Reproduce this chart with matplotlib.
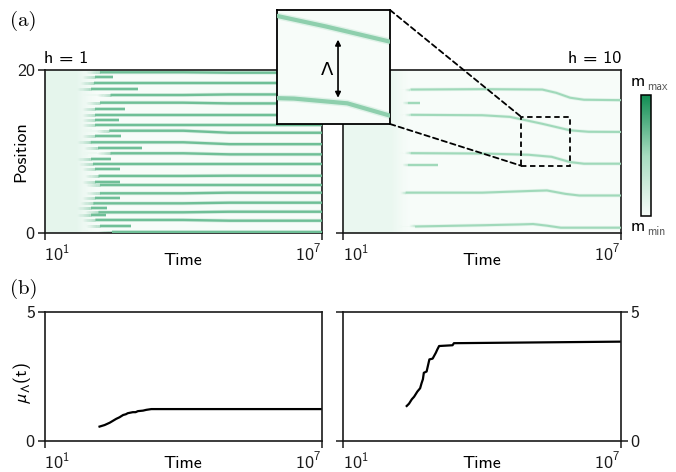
import numpy as np
import matplotlib
matplotlib.use('Agg')
import matplotlib.pyplot as plt
from matplotlib.colors import LinearSegmentedColormap, Normalize
from matplotlib.collections import LineCollection
from matplotlib.patches import Rectangle, ConnectionPatch
import matplotlib.colorbar as mcolorbar

plt.rcParams.update({
    'font.family': ['cmss10', 'DejaVu Sans'],
    'mathtext.fontset': 'custom',
    'mathtext.rm': 'cmss10',
    'mathtext.it': 'cmss10',
    'mathtext.bf': 'cmss10',
    'mathtext.sf': 'cmss10',
    'mathtext.fallback': 'stixsans',
    'axes.unicode_minus': False,
    'axes.formatter.use_mathtext': True,
    'font.size': 13,
})

# ---------------- data (log10 of time, positions) ----------------
# h = 1 : domain walls (keypoints in log10 time / position)
h1_walls_logt = [
    [2.20, 4.0, 5.0, 7.0], [2.06, 4.0, 5.0, 7.0], [2.43, 4.0, 5.0, 7.0],
    [2.20, 4.0, 5.0, 7.0], [2.10, 4.0, 5.0, 7.0], [2.10, 4.0, 5.0, 7.0],
    [2.40, 4.0, 5.0, 7.0], [2.00, 4.0, 5.0, 7.0], [2.43, 4.0, 5.0, 7.0],
    [2.05, 4.0, 5.0, 7.0], [2.17, 4.0, 5.0, 7.0], [2.20, 4.0, 5.0, 7.0],
    [2.20, 4.0, 5.0, 7.0], [2.06, 4.0, 5.0, 7.0], [2.17, 4.0, 5.0, 7.0],
    [2.10, 4.0, 5.0, 7.0], [2.45, 4.0, 5.0, 7.0],
    # short-lived walls
    [2.10, 2.49], [2.00, 3.03], [2.10, 2.75], [2.10, 2.60], [2.10, 2.66],
    [2.15, 3.10], [2.00, 2.43], [2.10, 2.64], [2.10, 2.63], [2.10, 2.64],
    [2.00, 2.35], [2.00, 2.32], [2.20, 2.86],
]
h1_walls_pos = [
    [19.72, 19.72, 19.67, 19.67], [18.37, 18.37, 18.37, 18.37], [16.93, 16.93, 17.0, 17.0],
    [15.99, 15.99, 15.9, 15.9], [14.48, 14.48, 14.48, 14.48], [13.25, 13.25, 13.25, 13.25],
    [12.55, 12.55, 12.3, 12.3], [11.13, 11.13, 10.9, 10.9], [9.78, 9.78, 9.65, 9.65],
    [8.43, 8.43, 8.43, 8.43], [7.0, 7.0, 7.03, 7.03], [5.89, 5.89, 5.89, 5.89],
    [4.87, 4.87, 4.95, 4.95], [3.64, 3.64, 3.72, 3.72], [2.54, 2.54, 2.61, 2.61],
    [1.6, 1.6, 1.51, 1.51], [0.16, 0.16, 0.16, 0.16],
    [19.1, 19.1], [17.63, 17.63], [15.2, 15.2], [13.87, 13.87], [11.94, 11.94],
    [10.47, 10.47], [9.04, 9.04], [7.85, 7.85], [6.22, 6.22], [4.26, 4.26],
    [3.1, 3.1], [2.2, 2.2], [0.9, 0.9],
]

# h = 10 : domain walls
h10_walls_logt = [
    [2.45, 4.0, 5.3, 5.6, 5.9, 6.2, 7.0],
    [2.45, 4.0, 4.6, 5.3, 5.9, 6.3, 7.0],
    [2.45, 4.0, 5.0, 5.5, 5.9, 6.2, 7.0],
    [2.35, 4.0, 5.0, 5.4, 5.8, 6.1, 7.0],
    [2.55, 4.0, 4.8, 5.1, 5.4, 5.7, 7.0],
    [2.40, 2.65],
    [2.40, 3.05],
]
h10_walls_pos = [
    [17.6, 17.65, 17.6, 17.2, 16.6, 16.35, 16.3],
    [14.5, 14.45, 14.25, 13.4, 12.6, 12.42, 12.4],
    [9.8, 9.75, 9.6, 9.35, 8.7, 8.5, 8.5],
    [4.95, 4.95, 5.15, 5.22, 4.8, 4.6, 4.6],
    [0.8, 0.95, 1.05, 1.1, 0.9, 0.65, 0.65],
    [16.0, 16.0],
    [8.4, 8.4],
]

# early-time disordered background (level, fade start, fade end in log10 t)
h1_haze = [0.11, 1.70, 2.20]
h10_haze = [0.08, 2.05, 2.50]

# zoom window (log10 t range, position range)
zoom_logt = [4.84, 5.90]
zoom_pos = [8.26, 14.27]

# (b) mean domain size
mu_h1_logt = [2.19, 2.30, 2.41, 2.55, 2.62, 2.70, 2.76, 2.80, 2.91, 2.97, 3.02, 3.13, 3.20, 3.31, 7.0]
mu_h1 = [0.56, 0.62, 0.71, 0.86, 0.92, 1.01, 1.04, 1.08, 1.12, 1.12, 1.16, 1.18, 1.21, 1.24, 1.24]
mu_h10_logt = [2.37, 2.42, 2.48, 2.53, 2.60, 2.66, 2.69, 2.72, 2.74, 2.80, 2.86,
               2.93, 3.00, 3.03, 3.07, 3.36, 3.39, 7.0]
mu_h10 = [1.36, 1.45, 1.62, 1.72, 1.92, 2.05, 2.24, 2.40, 2.65, 2.70, 3.17,
          3.20, 3.43, 3.55, 3.69, 3.72, 3.80, 3.86]

xtick_labels = [r'$10^{1}$', r'$10^{7}$']

# ---------------- styling ----------------
cmap = LinearSegmentedColormap.from_list('mg', ['#f7fcf9', '#a6dcbf', '#108c52'])
W, H = 676, 472
FS = 13
fig = plt.figure(figsize=(W / 100, H / 100), dpi=100)


def fax(x0, y0, x1, y1):
    return fig.add_axes([x0 / W, 1 - y1 / H, (x1 - x0) / W, (y1 - y0) / H])


def style_axes(ax):
    for s in ax.spines.values():
        s.set_linewidth(1.2)
        s.set_color('#1a1a1a')
    ax.set_xscale('log')
    ax.set_xlim(10 ** 1, 10 ** 7)
    ax.xaxis.set_minor_locator(matplotlib.ticker.NullLocator())
    ax.set_xticks([10 ** 1, 10 ** 7], labels=xtick_labels)
    for lbl, ha in zip(ax.get_xticklabels(), ['left', 'right']):
        lbl.set_horizontalalignment(ha)
    ax.tick_params(direction='out', length=5, width=1.1, labelsize=FS, pad=2, colors='#1a1a1a')


def draw_walls(ax, walls_t, walls_y, haze, color, lw_core, lw_glow, lead, with_haze=True):
    ax.set_facecolor(cmap(0.0))
    if with_haze:
        lt_edges = np.linspace(1, 7, 601)
        y_edges = np.linspace(0, 20, 401)
        lt_c = 0.5 * (lt_edges[1:] + lt_edges[:-1])
        y_c = 0.5 * (y_edges[1:] + y_edges[:-1])
        LT, Y = np.meshgrid(lt_c, y_c)
        level, f0, f1 = haze
        inten = level * np.clip((f1 - LT) / (f1 - f0), 0, 1) ** 1.5
        for t, y in zip(walls_t, walls_y):
            t0, y0 = t[0], y[0]
            frac = np.clip((t0 - LT) / max(t0 - f0 + 0.2, 0.05), 0, 1)
            halfw = 0.3 * frac
            mask = (np.abs(Y - y0) < halfw) & (LT < t0)
            inten = np.where(mask, np.maximum(inten, level * 0.8 * (1 - 0.5 * (1 - frac))), inten)
        ax.pcolormesh(10 ** lt_edges, y_edges, inten, cmap=cmap, vmin=0, vmax=1,
                      shading='flat', rasterized=True, zorder=0)
    for t, y in zip(walls_t, walls_y):
        t = np.asarray(t)
        y = np.asarray(y)
        # lead-in (fade-in of the wall)
        n = 12
        lts = np.linspace(t[0] - lead, t[0], n + 1)
        segs = [[(10 ** lts[i], y[0]), (10 ** lts[i + 1], y[0])] for i in range(n)]
        cols = [(*color[:3], a) for a in np.linspace(0.02, 0.55, n)]
        ax.add_collection(LineCollection(segs, colors=cols, linewidths=lw_core * 1.2, zorder=2))
        ax.plot(10 ** t, y, color=color, lw=lw_glow, alpha=0.22, solid_capstyle='butt',
                solid_joinstyle='round', zorder=2)
        ax.plot(10 ** t, y, color=color, lw=lw_core, solid_capstyle='butt',
                solid_joinstyle='round', zorder=3)


# ---------------- (a) left: h = 1 ----------------
axL = fax(44.5, 70, 322, 233)
draw_walls(axL, h1_walls_logt, h1_walls_pos, h1_haze, cmap(0.68), 1.7, 2.8, 0.3)
style_axes(axL)
axL.set_ylim(0, 20)
axL.set_yticks([0, 20], labels=['0', '20'])
axL.set_ylabel('Position', fontsize=FS)
axL.yaxis.set_label_coords(-0.085, 0.5)
axL.yaxis.label.set_va('center')
axL.set_title('h = 1', loc='left', fontsize=FS, pad=5)
axL.set_xlabel('Time', fontsize=FS)
axL.xaxis.set_label_coords(0.5, -0.17)
axL.xaxis.label.set_va('center')

# ---------------- (a) right: h = 10 ----------------
axR = fax(343.3, 70, 621, 233)
draw_walls(axR, h10_walls_logt, h10_walls_pos, h10_haze, cmap(0.52), 1.5, 2.6, 0.12)
style_axes(axR)
axR.set_ylim(0, 20)
axR.set_yticks([0, 20], labels=['', ''])
axR.set_title('h = 10', loc='right', fontsize=FS, pad=5)
axR.set_xlabel('Time', fontsize=FS)
axR.xaxis.set_label_coords(0.5, -0.17)
axR.xaxis.label.set_va('center')

rect = Rectangle((10 ** zoom_logt[0], zoom_pos[0]), 10 ** zoom_logt[1] - 10 ** zoom_logt[0],
                 zoom_pos[1] - zoom_pos[0], fill=False, ec='k', lw=1.3, ls=(0, (3, 2)), zorder=5)
axR.add_patch(rect)

# inset
axI = fax(277, 10, 390, 124)
draw_walls(axI, h10_walls_logt, h10_walls_pos, h10_haze, cmap(0.58), 3.0, 5.0, 0.12, with_haze=False)
axI.set_xscale('log')
axI.set_xlim(10 ** zoom_logt[0], 10 ** zoom_logt[1])
axI.set_ylim(zoom_pos[0], zoom_pos[1])
axI.xaxis.set_minor_locator(matplotlib.ticker.NullLocator())
axI.set_xticks([])
axI.set_yticks([])
for s in axI.spines.values():
    s.set_linewidth(1.3)
axI.annotate('', xy=(0.54, 0.23), xytext=(0.54, 0.74), xycoords='axes fraction',
             arrowprops=dict(arrowstyle='<|-|>', color='k', lw=1.2, mutation_scale=8,
                             shrinkA=0, shrinkB=0))
axI.text(0.44, 0.47, 'Λ', transform=axI.transAxes, ha='center', va='center',
         fontsize=13, family=['DejaVu Sans'])

for (xa, ya), (xb, yb) in [((1, 1), (10 ** zoom_logt[0], zoom_pos[1])),
                            ((1, 0), (10 ** zoom_logt[0], zoom_pos[0]))]:
    con = ConnectionPatch(xyA=(xa, ya), coordsA=axI.transAxes, xyB=(xb, yb), coordsB=axR.transData,
                          color='k', lw=1.3, ls=(0, (3, 2)), zorder=6)
    fig.add_artist(con)

# colorbar
cax = fax(641, 94.5, 651, 216.5)
cb = mcolorbar.ColorbarBase(cax, cmap=cmap, norm=Normalize(0, 1), orientation='vertical')
cb.set_ticks([])
cb.outline.set_linewidth(1.1)
fig.text(631 / W, 1 - 86 / H, 'm', fontsize=13, ha='left', va='baseline')
fig.text(647 / W, 1 - 90 / H, 'max', fontsize=8.5, ha='left', va='baseline', color='#555555')
fig.text(631 / W, 1 - 231 / H, 'm', fontsize=13, ha='left', va='baseline')
fig.text(647 / W, 1 - 235 / H, 'min', fontsize=8.5, ha='left', va='baseline', color='#555555')

# ---------------- (b) ----------------
bL = fax(44.5, 312.3, 322, 441)
bL.plot(10 ** np.array(mu_h1_logt), mu_h1, color='k', lw=1.6)
style_axes(bL)
bL.set_ylim(0, 5)
bL.set_yticks([0, 5], labels=['0', '5'])
bL.set_ylabel(r'$\mu_{\Lambda}$(t)', fontsize=FS)
bL.yaxis.set_label_coords(-0.08, 0.45)
bL.yaxis.label.set_va('center')
bL.set_xlabel('Time', fontsize=FS)
bL.xaxis.set_label_coords(0.5, -0.175)
bL.xaxis.label.set_va('center')

bR = fax(343.3, 312.3, 621, 441)
bR.plot(10 ** np.array(mu_h10_logt), mu_h10, color='k', lw=1.6)
style_axes(bR)
bR.set_ylim(0, 5)
bR.set_yticks([0, 5], labels=['0', '5'])
bR.tick_params(axis='y', left=True, right=True, labelleft=False, labelright=True)
bR.set_xlabel('Time', fontsize=FS)
bR.xaxis.set_label_coords(0.5, -0.175)
bR.xaxis.label.set_va('center')

fig.text(10 / W, 1 - 21 / H, '(a)', fontsize=15, family='cmr10', ha='left', va='center')
fig.text(10 / W, 1 - 289 / H, '(b)', fontsize=15, family='cmr10', ha='left', va='center')

fig.savefig('out.png', dpi=100)
